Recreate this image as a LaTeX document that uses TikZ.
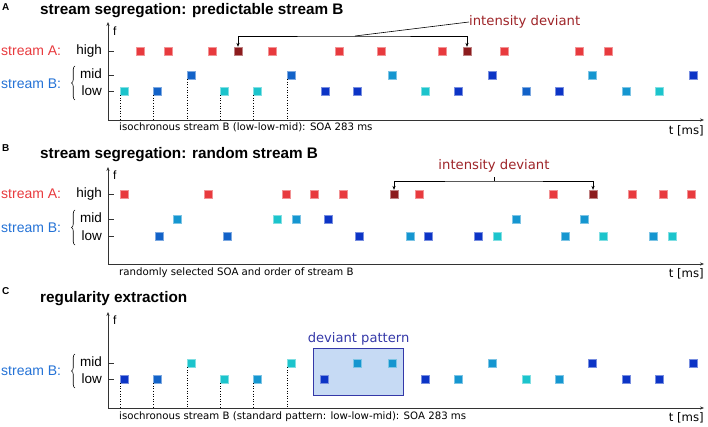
\documentclass[tikz,border=0pt]{standalone}
\usepackage{fontspec}
\setmainfont{Liberation Sans}
\newfontfamily\verdana{DejaVu Sans}
\usetikzlibrary{arrows.meta, positioning, decorations.pathreplacing}
\definecolor{cred}{HTML}{E83A3E}
\definecolor{cdred}{HTML}{8C1C1E}
\definecolor{ccyan}{HTML}{1CC4CC}
\definecolor{clight}{HTML}{1596D0}
\definecolor{cmid}{HTML}{1262C8}
\definecolor{cdark}{HTML}{0C34C6}
\definecolor{cbtxt}{HTML}{2472D6}
\definecolor{cdevtxt}{HTML}{9E2428}
\definecolor{cpat}{HTML}{3438A8}
\definecolor{cpatfill}{HTML}{C6DAF4}
\definecolor{caxis}{HTML}{333333}

\begin{document}
\begin{tikzpicture}[
  x=1pt, y=-1pt,
  >={Stealth[length=4pt,width=3.2pt]},
  every node/.style={inner sep=0pt},
  sq/.style={draw=#1!55!white, fill=#1, line width=0.5pt,
             minimum size=7.8pt, inner sep=0pt},
  letter/.style={font=\fontsize{10}{12}\selectfont\bfseries, anchor=west},
  ttl/.style={font=\fontsize{15.3}{18}\selectfont\bfseries, anchor=west},
  strm/.style={font=\fontsize{14}{16}\selectfont, anchor=west},
  lvl/.style={font=\fontsize{13.5}{16}\selectfont, anchor=east},
  flbl/.style={font=\fontsize{12}{14}\selectfont, anchor=west},
  axlbl/.style={font=\verdana\fontsize{10.2}{12}\selectfont, anchor=west},
  unit/.style={font=\verdana\fontsize{11.7}{14}\selectfont, anchor=east},
  devlbl/.style={font=\verdana\fontsize{13.2}{15}\selectfont, text=cdevtxt},
  axis/.style={->, draw=caxis, line width=0.7pt},
  tick/.style={draw=caxis, line width=0.6pt},
  iso/.style={dotted, draw=black, line width=0.6pt},
  brk/.style={<->, draw=black, line width=0.6pt},
  brace/.style={decorate, decoration={brace, amplitude=3.5pt}, line width=0.6pt},
]
\useasboundingbox (0,0) rectangle (708,427);

% ---------- panel A
\node[letter] (a-let) at (2,7) {A};
\node[ttl] (a-ttl) at (40,11) {stream segregation: predictable stream B};
\coordinate (a-o) at (108,120);
\coordinate (a-xe) at (704,120);
\coordinate (a-ye) at (108,22);
\draw[axis] (a-o) -- (a-xe);
\draw[axis] (a-o) -- (a-ye);
\node[flbl] (a-f) at (113,31) {f};
\node[unit] (a-t) at (704,131) {t [ms]};
\node[axlbl] (a-txt) at (119,127) {isochronous stream B (low-low-mid): SOA 283 ms};
\draw[tick] (108,51) -- ++(6,0);
\draw[tick] (108,75) -- ++(6,0);
\draw[tick] (108,91) -- ++(6,0);
\node[lvl] (a-hi) at (102,51) {high};
\node[lvl] (a-mi) at (102,74) {mid};
\node[lvl] (a-lo) at (102,91) {low};
\node[strm, text=cred] (a-sa) at (1,51) {stream A:};
\node[strm, text=cbtxt] (a-sb) at (1,84) {stream B:};
\draw[brace] (75,100) -- (75,66);
% tones
\foreach \x [count=\i] in {140,168,212,272,339,381,442,504,579,608}
  \node[sq=cred] (a-h\i) at (\x,51) {};
\node[sq=cdred] (a-dev1) at (238,51) {};
\node[sq=cdred] (a-dev2) at (467,51) {};
\foreach \x/\c [count=\i] in {191/cmid,291/cmid,392/clight,492/cdark,592/clight,693/cdark}
  \node[sq=\c] (a-m\i) at (\x,75) {};
\foreach \x/\c [count=\i] in {124/ccyan,157/cmid,224/ccyan,257/ccyan,325/cdark,357/cdark,
    425/ccyan,458/cdark,526/cmid,559/cdark,626/clight,659/ccyan}
  \node[sq=\c] (a-l\i) at (\x,91) {};
\foreach \n in {a-l1,a-l2,a-m1,a-l3,a-l4,a-m2}
  \draw[iso] (\n.south west) -- (\n.south west |- a-o);
% deviant bracket
\coordinate (a-brk) at (355,36);
\draw[brk] (a-dev1.north) |- (a-brk) -| (a-dev2.north);
\node[devlbl, anchor=west] (a-dev) at (469,22) {intensity deviant};
\draw[line width=0.6pt] (a-brk) -- (a-dev.west);

% ---------- panel B
\node[letter] (b-let) at (2,148) {B};
\node[ttl] (b-ttl) at (40,155) {stream segregation: random stream B};
\coordinate (b-o) at (108,264);
\coordinate (b-xe) at (704,264);
\coordinate (b-ye) at (108,167);
\draw[axis] (b-o) -- (b-xe);
\draw[axis] (b-o) -- (b-ye);
\node[flbl] (b-f) at (113,175) {f};
\node[unit] (b-t) at (704,274) {t [ms]};
\node[axlbl] (b-txt) at (119,273) {randomly selected SOA and order of stream B};
\draw[tick] (108,194) -- ++(6,0);
\draw[tick] (108,219) -- ++(6,0);
\draw[tick] (108,236) -- ++(6,0);
\node[lvl] (b-hi) at (102,194) {high};
\node[lvl] (b-mi) at (102,218) {mid};
\node[lvl] (b-lo) at (102,236) {low};
\node[strm, text=cred] (b-sa) at (1,194) {stream A:};
\node[strm, text=cbtxt] (b-sb) at (1,228) {stream B:};
\draw[brace] (75,245) -- (75,210);
% tones
\foreach \x [count=\i] in {124,208,286,314,343,419,553,632,663,691}
  \node[sq=cred] (b-h\i) at (\x,194) {};
\node[sq=cdred] (b-dev1) at (394,194) {};
\node[sq=cdred] (b-dev2) at (593,194) {};
\foreach \x/\c [count=\i] in {177/clight,277/ccyan,296/clight,328/cdark,516/clight,584/clight}
  \node[sq=\c] (b-m\i) at (\x,219) {};
\foreach \x/\c [count=\i] in {159/cmid,227/cmid,359/cdark,410/clight,428/cdark,478/cdark,
    497/ccyan,565/clight,603/ccyan,653/clight,672/ccyan}
  \node[sq=\c] (b-l\i) at (\x,236) {};
% deviant bracket
\coordinate (b-brk) at (494,181);
\coordinate (b-tip) at (494,177);
\draw[brk] (b-dev1.north) |- (b-brk) -| (b-dev2.north);
\draw[line width=0.6pt] (b-brk) -- (b-tip);
\node[devlbl] (b-dev) at (494,166) {intensity deviant};

% ---------- panel C
\node[letter] (c-let) at (2,291) {C};
\node[ttl] (c-ttl) at (40,299) {regularity extraction};
\coordinate (c-o) at (108,408);
\coordinate (c-xe) at (704,408);
\coordinate (c-ye) at (108,312);
\draw[axis] (c-o) -- (c-xe);
\draw[axis] (c-o) -- (c-ye);
\node[flbl] (c-f) at (113,320) {f};
\node[unit] (c-t) at (704,418) {t [ms]};
\node[axlbl] (c-txt) at (119,417) {isochronous stream B (standard pattern: low-low-mid): SOA 283 ms};
\draw[tick] (108,363) -- ++(6,0);
\draw[tick] (108,379) -- ++(6,0);
\node[lvl] (c-mi) at (102,362) {mid};
\node[lvl] (c-lo) at (102,379) {low};
\node[strm, text=cbtxt] (c-sb) at (1,371) {stream B:};
\draw[brace] (75,388) -- (75,354);
% deviant pattern box
\node[draw=cpat, fill=cpatfill, line width=1.2pt, minimum width=90pt,
      minimum height=47pt, anchor=north west] (c-box) at (313,348) {};
\node[font=\verdana\fontsize{13.1}{15}\selectfont, text=cpat, above=3pt of c-box]
  (c-lbl) {deviant pattern};
% tones
\foreach \x/\c [count=\i] in {191/ccyan,291/ccyan,357/clight,392/clight,492/clight,592/cdark,693/cdark}
  \node[sq=\c] (c-m\i) at (\x,363) {};
\foreach \x/\c [count=\i] in {124/cdark,157/cmid,224/ccyan,257/clight,324/cdark,425/cdark,
    458/clight,526/ccyan,559/clight,626/cdark,659/cdark}
  \node[sq=\c] (c-l\i) at (\x,379) {};
\foreach \n in {c-l1,c-l2,c-m1,c-l3,c-l4,c-m2}
  \draw[iso] (\n.south west) -- (\n.south west |- c-o);
\end{tikzpicture}
\end{document}
